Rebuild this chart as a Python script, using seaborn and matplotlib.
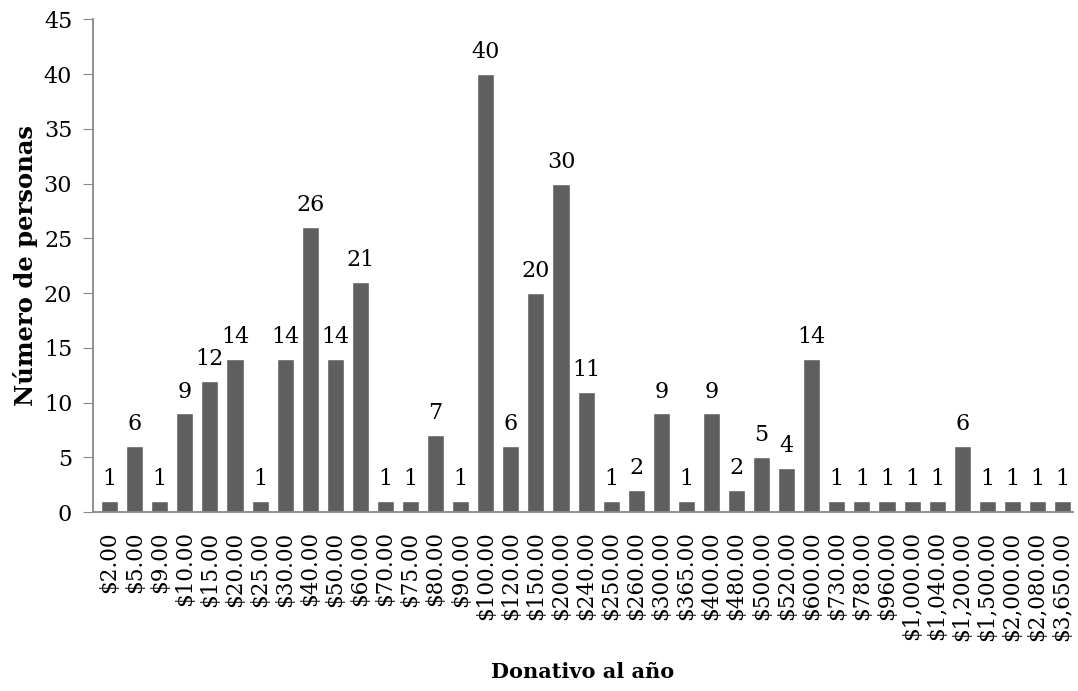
import pandas as pd
import numpy as np
import matplotlib
matplotlib.use('Agg')
import matplotlib.pyplot as plt
import seaborn as sns

# data
donativos = ['$2.00', '$5.00', '$9.00', '$10.00', '$15.00', '$20.00', '$25.00',
             '$30.00', '$40.00', '$50.00', '$60.00', '$70.00', '$75.00', '$80.00',
             '$90.00', '$100.00', '$120.00', '$150.00', '$200.00', '$240.00',
             '$250.00', '$260.00', '$300.00', '$365.00', '$400.00', '$480.00',
             '$500.00', '$520.00', '$600.00', '$730.00', '$780.00', '$960.00',
             '$1,000.00', '$1,040.00', '$1,200.00', '$1,500.00', '$2,000.00',
             '$2,080.00', '$3,650.00']
personas = [1, 6, 1, 9, 12, 14, 1, 14, 26, 14, 21, 1, 1, 7, 1, 40, 6, 20, 30, 11,
            1, 2, 9, 1, 9, 2, 5, 4, 14, 1, 1, 1, 1, 1, 6, 1, 1, 1, 1]

df = pd.DataFrame({'Donativo': donativos, 'Personas': personas})

sns.set_style('white')
plt.rcParams['font.family'] = ['DejaVu Serif']
plt.rcParams['text.color'] = 'black'
plt.rcParams['xtick.color'] = 'black'
plt.rcParams['ytick.color'] = 'black'
plt.rcParams['axes.labelcolor'] = 'black'

fig, ax = plt.subplots(figsize=(10.78, 6.91), dpi=100)
fig.subplots_adjust(left=0.0863, right=0.995, top=0.972, bottom=0.259)

sns.barplot(data=df, x='Donativo', y='Personas', color='#5f5f5f',
            width=0.68, saturation=1, ax=ax)

for i, v in enumerate(personas):
    ax.text(i, v + 1.0, str(v), ha='center', va='bottom', fontsize=16)

ax.set_ylim(0, 45)
ax.set_yticks(range(0, 46, 5))
ax.set_xlim(-0.66, len(donativos) - 0.6)
ax.tick_params(axis='y', labelsize=16, length=7, color='#888888', direction='out',
               left=True, pad=8)
ax.tick_params(axis='x', labelsize=15.5, rotation=90, length=0, pad=14)
for t in ax.get_yticklabels():
    t.set_color('black')

for s in ['top', 'right']:
    ax.spines[s].set_visible(False)
for s in ['left', 'bottom']:
    ax.spines[s].set_color('#888888')
    ax.spines[s].set_linewidth(1.3)

ax.set_xlabel('Donativo al año', fontsize=15, fontweight='bold', labelpad=15)
ax.set_ylabel('Número de personas', fontsize=17.5, fontweight='bold', labelpad=4)

plt.savefig('out.png', dpi=100)
